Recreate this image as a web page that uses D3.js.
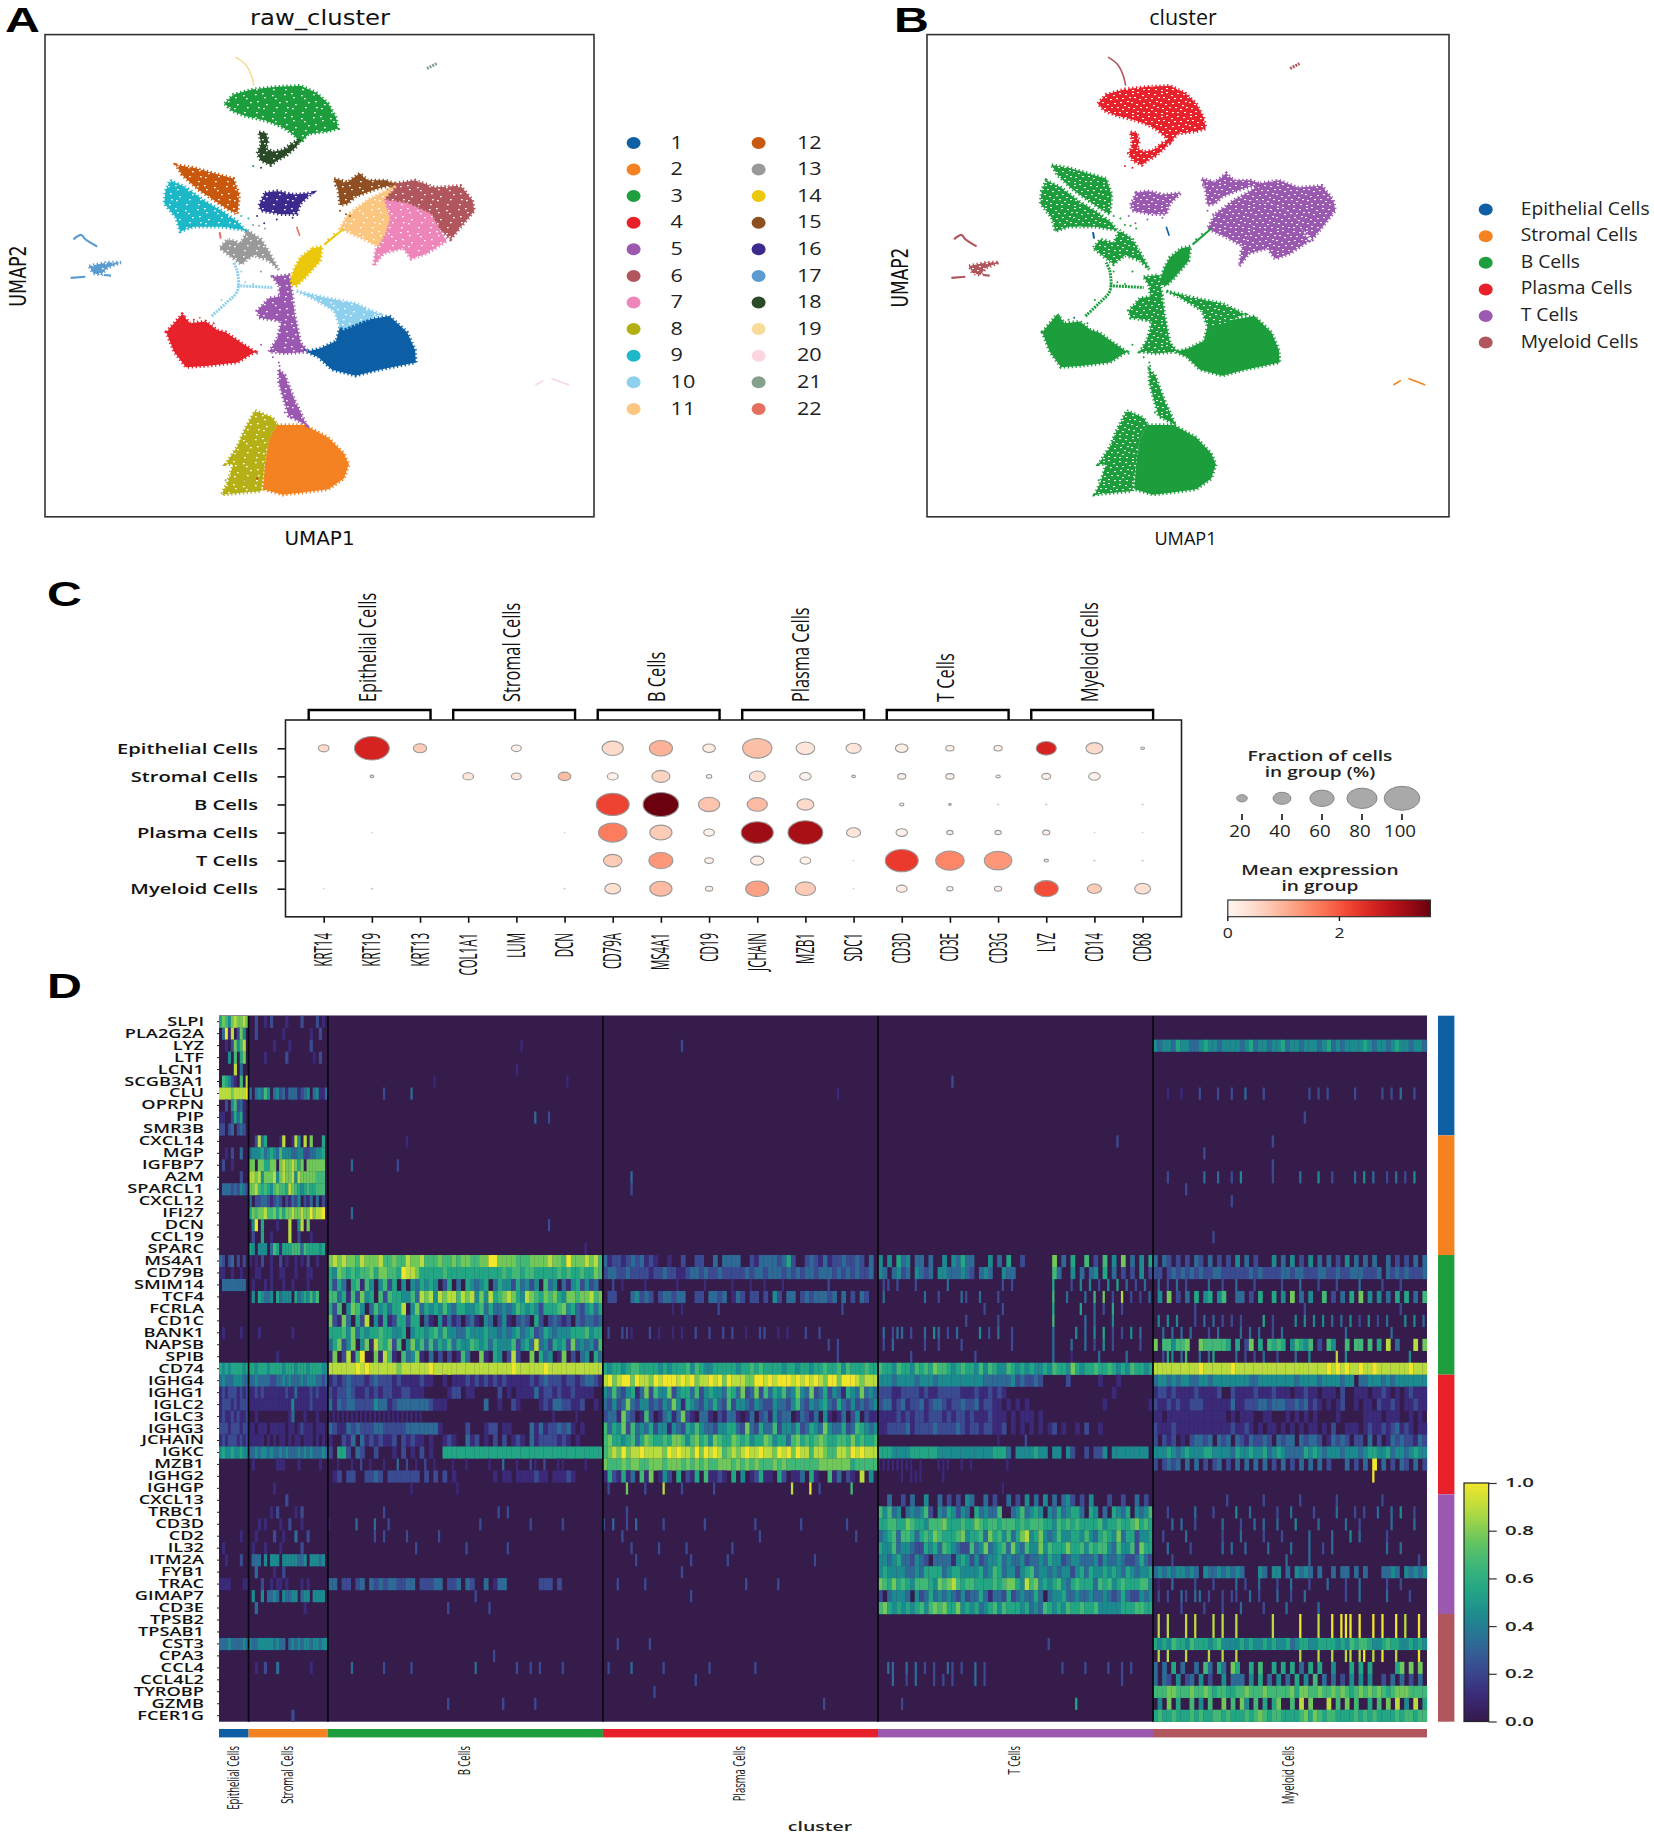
<!DOCTYPE html>
<html><head><meta charset="utf-8">
<script src="https://cdn.jsdelivr.net/npm/d3@7/dist/d3.min.js"></script>
<style>html,body{margin:0;padding:0;background:#fff}svg{display:block}</style></head>
<body><div id="chart"></div>
<script>
// ---------- UMAP cluster outlines (reading units of panel A) ----------
const cluster1=[[860,915],[900,900],[985,885],[1030,930],[1050,980],[1052,1015],[960,1035],[900,1052],[840,1035],[805,1000],[775,985],[810,975],[850,955]];
const cluster2=[[700,1190],[770,1190],[830,1225],[870,1270],[882,1300],[870,1340],[830,1370],[760,1380],[715,1385],[665,1370],[670,1300],[680,1230]];
const cluster3=[[568,290],[590,265],[640,250],[700,243],[760,240],[800,260],[830,290],[850,330],[855,360],[830,368],[780,375],[760,400],[745,380],[720,360],[690,345],[660,335],[620,325],[585,310]];
const cluster4=[[420,930],[432,915],[460,880],[480,905],[520,900],[550,925],[570,930],[610,960],[645,985],[600,1015],[520,1025],[470,1028],[440,985]];
const cluster5=[[690,775],[730,770],[740,830],[745,880],[760,960],[780,985],[720,990],[680,985],[700,950],[712,900],[655,890],[650,870],[680,835],[708,830],[705,800]];
const cluster5b=[[705,1035],[720,1050],[745,1120],[775,1190],[730,1165],[715,1110],[705,1070]];
const cluster6=[[990,515],[1050,505],[1100,525],[1165,520],[1195,560],[1200,590],[1170,630],[1140,670],[1110,640],[1090,600],[1030,570],[970,560]];
const cluster7=[[970,560],[1030,570],[1090,600],[1110,640],[1130,675],[1080,710],[1040,725],[1020,695],[970,710],[945,745],[950,700],[975,650],[985,610]];
const cluster8=[[645,1150],[690,1170],[700,1190],[680,1230],[670,1290],[660,1375],[610,1380],[560,1385],[575,1350],[590,1300],[570,1300],[600,1250],[620,1200]];
const cluster9=[[430,505],[470,525],[520,565],[560,590],[600,620],[620,645],[560,635],[490,635],[455,648],[445,610],[415,570],[418,535]];
const cluster10=[[750,815],[830,835],[900,850],[960,880],[870,920],[860,915],[845,870],[790,835]];
const cluster11=[[1000,520],[970,560],[985,610],[975,650],[955,690],[920,670],[860,640],[880,600],[930,560]];
const cluster12=[[445,462],[490,470],[540,485],[590,500],[605,545],[600,600],[575,585],[540,560],[500,530],[460,490]];
const cluster13=[[625,645],[660,670],[680,705],[705,755],[680,730],[640,715],[610,740],[555,695],[575,670],[610,680]];
const cluster14=[[790,695],[815,690],[810,730],[770,780],[750,800],[730,795],[745,750],[760,720]];
const cluster15=[[845,500],[880,510],[910,485],[930,505],[975,505],[1000,515],[950,530],[900,550],[880,570],[860,575],[855,530]];
const cluster16=[[670,540],[700,535],[745,545],[790,540],[760,570],[750,600],[710,600],[660,590],[655,575]];
const cluster17=[[225,745],[270,735],[305,735],[270,750],[255,770],[235,765]];
const cluster18=[[655,370],[672,372],[678,395],[672,415],[690,425],[715,420],[740,400],[760,390],[750,410],[725,435],[700,450],[685,462],[660,450],[650,430],[660,405]];
// thin strands
const strand10a=[[535,885],[570,850],[600,815],[600,760],[590,735]];
const strand10b=[[600,800],[690,805]];
const strand11=[[820,685],[870,640]];
const strand17a=[[185,670],[205,658],[215,670],[245,690]];
const strand17b=[[178,778],[215,775]];
const strand17c=[[262,770],[280,772]];
const strand19=[[595,160],[620,180],[635,210],[642,240]];
const strand20a=[[1355,1078],[1375,1065]];
const strand20b=[[1395,1060],[1440,1078]];
const strand21=[[1080,192],[1105,178]];
const strand22=[[750,635],[758,660]];
const strand22b=[[555,650],[558,668]];
// loose cells seen away from the main masses: x, y, cluster index
const looseCells=[[610,605,8],[628,612,8],[640,630,12],[655,632,12],[670,640,12],[650,605,15],[668,625,15],[700,615,15],[740,610,15],[660,470,17],[640,465,2],[765,395,2],[705,1015,4],[707,1025,4],[660,965,4],[650,990,4],[690,1000,4],[770,980,0],[790,990,0],[610,760,9],[620,790,9],[640,795,9],[560,840,9],[660,760,12],[875,600,14],[860,590,14],[885,605,14],[850,510,14],[848,520,14],[735,1170,4],[720,1155,4],[465,885,3],[490,895,3],[505,890,21],[540,905,3],[620,1345,12],[650,1340,3],[570,1345,12],[1000,525,10],[830,670,13],[845,655,13]];

const clusterIds=["1","2","3","4","5","6","7","8","9","10","11","12","13","14","15","16","17","18","19","20","21","22"];
const clusterColors=["#0f5fa5","#f58220","#1f9e3e","#e8202a","#9b59b0","#b0565c","#ee86ba","#b5b012","#1fb8c8","#8fd0ee","#fbc680","#c9590f","#9a9a9a","#ecc80f","#8f5020","#3e2a8f","#5b9bd0","#2a4a28","#f7dc98","#fbd5e0","#86a08e","#e57060"];
const cellTypes=["Epithelial Cells","Stromal Cells","B Cells","Plasma Cells","T Cells","Myeloid Cells"];
const typeColors=["#0f5fa5","#f58220","#1f9e3e","#e8202a","#9b59b0","#b0565c"];
// cell type of each raw cluster (index into cellTypes)
const clusterType=[2,2,3,2,2,4,4,2,2,2,4,2,2,2,4,4,5,3,5,1,5,0];

// ---------- dot plot ----------
const dotGenes=["KRT14","KRT19","KRT13","COL1A1","LUM","DCN","CD79A","MS4A1","CD19","JCHAIN","MZB1","SDC1","CD3D","CD3E","CD3G","LYZ","CD14","CD68"];
const fracEpithelial=[20,97,27,0,18,0,50,56,25,77,42,32,25,14,14,47,37,5];
const fracStromal=[0,5,0,20,18,25,20,40,8,34,22,5,14,14,6,16,22,0];
const fracB=[0,0,0,0,0,0,90,100,50,47,37,0,6,3,2,2,0,2];
const fracPlasma=[0,1,0,0,0,1,74,53,20,87,97,29,22,10,10,12,1,1];
const fracT=[0,0,0,0,0,0,42,59,15,27,20,1,90,74,71,6,2,2];
const fracMyeloid=[1,2,0,0,0,2,34,53,12,56,47,1,20,10,12,59,29,34];
const meanEpithelial=[.5,2.6,.7,0,.1,0,.5,1,.2,.85,.3,.3,.15,.1,.1,2.6,.5,.3];
const meanStromal=[0,.5,0,.3,.3,.9,.1,.6,.1,.4,.1,.2,.1,.1,.2,.1,.1,0];
const meanB=[0,0,0,0,0,0,2.2,3.6,.8,.9,.5,0,.3,.1,.1,.1,0,.1];
const meanPlasma=[0,.1,0,0,0,.1,1.6,.7,.1,3.2,3.1,.3,.1,.1,.1,.1,.1,.1];
const meanT=[0,0,0,0,0,0,.7,1.3,.1,.2,.1,.1,2.3,1.5,1.3,.3,.1,.1];
const meanMyeloid=[.1,.3,0,0,0,.1,.4,.9,.1,1.2,.7,.1,.2,.1,.1,2.1,.7,.4];
const fracRows=[fracEpithelial,fracStromal,fracB,fracPlasma,fracT,fracMyeloid];
const meanRows=[meanEpithelial,meanStromal,meanB,meanPlasma,meanT,meanMyeloid];
const sizeLegend=[20,40,60,80,100];

// ---------- heat map: digit = level 0-9 of 9; a string's length sets its own column count ----------
const heatGenes=["SLPI","PLA2G2A","LYZ","LTF","LCN1","SCGB3A1","CLU","OPRPN","PIP","SMR3B","CXCL14","MGP","IGFBP7","A2M","SPARCL1","CXCL12","IFI27","DCN","CCL19","SPARC","MS4A1","CD79B","SMIM14","TCF4","FCRLA","CD1C","BANK1","NAPSB","SPIB","CD74","IGHG4","IGHG1","IGLC2","IGLC3","IGHG3","JCHAIN","IGKC","MZB1","IGHG2","IGHGP","CXCL13","TRBC1","CD3D","CD2","IL32","ITM2A","FYB1","TRAC","GIMAP7","CD3E","TPSB2","TPSAB1","CST3","CPA3","CCL4","CCL4L2","TYROBP","GZMB","FCER1G"];
const heatEpithelial=["5764787787","0391802740","0010274680","0004060570","0000080300","0654210608","8888788889","0020462310","1100253510","2202302320","0","0010200300","0200100000","0000000200","0333232432","0","0","0","0","0","3202302020","1100100100","0333333330","0","0","0","0100000100","0","0","5454555545","3433344433","1212221212","1222121222","1211212112","2221222122","1212221212","4544544544","0","0","0","0","0","0","0000000100","0100000000","0010000200","0","1111000011","0","0","0","0","3334333343","0","0","0","0","0","0"];
const heatStromal=["00200102000010000200002010","00200000000100000000100200","00000000100001000000200000","00000100000020000000010200","0","0","30343640342313331234034113","0","0","0","00283500001800184080700050","34445345436444334422334450","77077557707877875707777770","88784777847877848777776660","77865654676658765456556660","30223321232021324021303020","57677866757577877877978890","04905000010008004807000000","02005001000008002000100000","54044403651555666365555450","10102001002010010102001000","00110001001100010001100000","01000101000100100001000000","04054334053444053454646000","0","0","00010000000000100000000000","0","00000000010000000000000000","55455545555455545554555544","33433332233434333434443323","11212111111121131111212111","11111111111111411111211111","00100000000001300010001000","11011101111101101211101110","11111010101101011011101010","33434434334343334343433343","01000000011100001000000100","0","00000000100000000000000000","00000000000020000000000000","00000001020000010200000000","00010100001002000100000000","00100000200100030002000000","01000100001000000200000000","03330404440444443340444340","00300000100200000000000000","00002001011010000101000000","04004033430433440344044440","00300000000000000010000000","0","0","43344444343303434344344344","0","00100200030000000000100000","0","0","0","00000000000000200000000000"];
const heatB=["0","0","000000000000000000000000000000000000000000100000000000000000","0","000000000000000000000000000000000000000001000000000000000000","000000000000000000000001000000000000000000000000000010000000","000000000000200000300000000000000000000000000000000000000000","0","000000000000000000000000000000000000000000000300200000000000","0","000000000000000001000000000000000000000000000000000000000000","000000000000000000000000000000000000000000000000000000000000","000003000000000200000000000000000000000000000000000000000000","0","0","0","000003000000000000000000000000000000000000000000000000000000","000000000000000000000000000000000000000000000000200000000000","0","000000000000000000000000000000000000000000000000000000001000",
"787877687778667668778666766767766779977776667777877697778786","547656566757766598875555565555555555556566566555556565565576","525305616404625040435454025030543450354425342406340314524230","663516274506265544638784878868784748567875487657675477677867","526047640364535580473545464355445635334346545425556745324535","721730528041512552550310413120231043024102320520232120323323","555647354556554450455456464433544454434345345235434445556455","357247047186572604746363546354465453544462453834254527343426","170281690071861063471030202016300710540282007053401702034053","888888989888888788888898888888888888888898888889888888888888",
"121232221232221211112110010111212121212111112123222122123321","212232112121221122111000001220110000020101111312212112111100","313233222243312333333321110000000030010021000012133221120010","111111111111111111111000000000000000000000000000010000100000","321132322233222223333333100000200012201100003131223231010000","100213031212112021211010012100312010202012103122221210100000","205520320020001020102010055555555555555555555555555555555555","001001020100100302010201000100100001003001002102001100001000","012022002232022222220202020100000000101101111211011121000000","000000000000000000100000000010000000000000000000000000000000",
"0","000000000000200000000000000000000000020200000000000000000000","100000300030020000000000000000000200000000002000000200000000","000000000020200002000000200000000000000000000000000000000000","000000000000000000020000000000200000000200000000000000000000","000000000000000000000000000000000000000000000000000000000000","0","330220230323233223302223302230320030133000000022202000000000","000000000000000000000000000000002000000000000000000000000000","000000000000000000000000002000000002000000000000000000000000","0","0","0","000000000000000000000000000000000000200000000000000000000000","000003000000200000200000000000003000000002002020000200000000","000000000000000000000000000000000000000000000000000000000000","0","000000000000000000000000002000000000002000000200000000000000","0"];
const heatPlasma=["0","0","000000000000000002000000000000000000000000000000000000000000","0","0","0","000000000000000000000000000000000000000000000000000100000000","0","0","0","0","0","0","000000300000000000000000000000000000000000000000000000000000","000000200000000000000000000000000000000000000000000000000000","0","0","0","0","0",
"312212323121001002002200303333002133332352002321312232232030","233223222212232211233232232222232332333232323323332323232230","002010000100000010000010000010001001000100000000020000000000","022000342320233233002203323013202202042033023233323030203200","000000000000000101000000020000000000000000000000000020000000","000000000000000000000000000000000000000000000000000000000000","020022100020100101002002002020010022001010002002000000000000","000000000000000000000000000000000000000000000000020200000000","000000000000000000000000000000000000000000000000000200000000","545545665555454555646544555554556565555455455455655646555655",
"897899798879899989897889897988877998989998989898799799987888","436324513726447245536245443653723726354634743723524315437343","324237324423243741543243532624432432243324632434532532423234","233173201620134137210331021331013023142330132130410130240211","635472634352441432546433244553273253362443523543743352365434","675545635765565776467564765576564557645536756567655665756556","678797889888879898879798986787898898879897988688766887989888","766676776677767776767676677767676766676766666667777777566666","152151306170142050215061121050401251105201130510061302108040","020007000200080002000000200000000000000008000902000000600000",
"0","000002000000000000000000000000000000000000000000000000000000","203002030000020000000020000000000200000000020000000002000000","000020000000000000000000000000000020000000000000000000020000","000000200000200000200000000020000000000000000000000000000000","000000020000000000020000000200000000000000000020000000000000","000000000000000002000000000000000000000000000000000000000000","000200000200000000000000000000020000002000000000000000000000","000000000000000000020000000000000000000000000000000000000000","0","0","0","000200000020000000000000000000000000000000000000000000000000","0","020000300000020000000002000000000200000000000000000000000000","000000000000000000002000000000000000000000000000000000000000","000000000002000000000000000000000000000000000000000000000000","000000000000000000000000000000000000000000000000200000000000","0"];
const heatT=["0","0","000000000000000000000000000000000000000000000000000000000000","0","0","000000000000000020000000000000000000000000000000000000000000","0","0","0","0","000000000000000000000000000000000000000000000000000020000000","0","0","0","0","0","0","0","0","0",
"404053403303004043533000403050020000007030500602060407030405","430342304323044333432034300433000000006300403034050302020402","022020002000000300000000000202000000005000204040204050302030","030000000030020000320030002000000000006003000306070208020203","000000000000000000000002000200000000005000005003020502000000","000000000000000000020000002000000000006000000303000400000000","030233020030430203000040203002000000003000040304050202040300","020300000020020000200000000002000000003000300302040200000200","000000020000000000000200000000000000003000100000300000300000","655465546565766545655464654465454544546554754556556545465545",
"444344443444344444444443333334232232000002000000100010000000","222112222121122222111211212100000000000000000000000100000000","233123122312332122322312211010101000000000000000010000000001","111121212212221212212111211101011101000000000000000000000000","112222312222322223212212211201010101012010010200100000000000","000000000000000000000000001000002000000000000000000000000000","555444455555544444444444455530444454404404200202240444444440","111111110100011100101000000010000000000000000000000000000000","000001011100001000000000000000000000000000000000000000000000","000000000000000000000000000100000000000000000000000000000000",
"003002030040030202043003020030204030403034202040002002003020","646340343462043542430534336003463454043534553054030543504346","556655765546667555655765665666565666554656565555645565567565","345636653565765556745563756463578457434644554643565473552445","544634432254536543226347345637436447465557556465664364462755","443453324320333314542423445343342334354423443334243343223532","454444334355553455444453465344245634434344245354454543543445","765756546665476786566555565677548674545643565553656456555664","203444304235343432423353133252343353034453343343343235322434","675454545646767557454534564655545343654546556556444445556655",
"0","0","000000000000000000000000000000000000020000000000000000000000","0","003300303020200320200302000000000000000020000200002002020000","000300203000202020000302000000000000000000000000000002000000","0","000002000000000000000000000000000000000000050000000000000000","0"];
const heatMyeloid=["0","0","434435443345443444434534434453443444345343444454344345443443","0","0","0","000100100020002002003000200000000020202000002000002020300200","0","000000000000000000000000000000000200000000000000000000000000","0","000000000000000000000000002000000000000000000000000000000000","000000000002000000000000000000000000000000000000000000000000","000000000000000000000000002000000000000000000000000000000000","000200000003003002040000002000003000400200003040300203020400","000000020000000000000000000000000000000000000000000000000000","000000000000000002000000000000000000000000000000000000000000","0","0","000000000000020000000000000000000000000000000000000000000000","0",
"303202020320302020403020004030402040303020403030300302020303","220232323232233222222323222233233222332232233322230323232223","030203020000300200300020000020003000200020000300002000200000","040702030504504600330205005040703040060203050704040305050306","000000000200000000000000000000000200000000000000000000200000","040404000203030202020000502000040404040303040204020300040403","003030303000203000030303002030000000000000300000000030000000","706646670076666650502705065650465460206400606606050803000807","002540360030350000302020300200030040000080400000000000004000","888888888898888889888888888888888888889898988988988888889888",
"344343443344344444444334444444434444344443440334443434444444","122121111211112002111121112111011211011102001110112101012111","211212112221111113112223323332232312101012001011021121011211","110111111111111101011100110001010101000010000011110111001010","211121111111111112112101011010101011010200111012112123121011","202120102332303230321322320323303233201323202203020132322132","444543454445544443544544534543333545434443444345544534434544","202323030302023020303030302030203030302000302030903020320302","000000000000000000000000000000000000000000000000900000000000","0",
"000000000000000020000000200000002000000020000000002000000000","000200000300020000400300000200300002000030002020030030400200","000030300200000300020030300300040000300000300200000030000300","002000030000000200030000200020000030000300040300000200000000","000300002000000303003000030000300030020300000000000300300000","000020000000000000000000000003000030000000000000000000000020","343434434304334343430004304403043430300303303030003343043434","010030000200020000302003000200300020003000200300000200200000","020200320330200202200302000300200300000000200300000300002000","000000200002000200030000200003000000300000000000000000000000",
"080800080800080800800000008000009000800909990900909009080090","080800080800080800800000008000009000800909990900909009080090","545465546555456444454544545445345544555545465665445655445454","080800080000800800800000000000008000800800880890809008000090","303050300306305307500506005050503050500400050505000005707070","303204023040200403330405030403050406030302040404002030302030","666776667667656655667666766666757766766767656767676567776666","040705006040600706074060505700608070008060706005060708040805","565565556565566565556567656655556757656655556565655556566566"];
const heatBlocks=[heatEpithelial,heatStromal,heatB,heatPlasma,heatT,heatMyeloid];
const blockEdges=[219,248.6,327.9,602.9,878,1153,1427];
const cbarTicks=[0,0.2,0.4,0.6,0.8,1.0];

// ---------- page ----------
const svg=d3.select("#chart").append("svg").attr("width",1654).attr("height",1836).attr("viewBox","0 0 1654 1836");
const defs=svg.append("defs");
defs.append("filter").attr("id","soft").append("feGaussianBlur").attr("stdDeviation",0.55);
const speckTile=[[1,1],[6,0],[11,3],[17,1],[23,2],[27,5],[3,5],[8,7],[14,6],[20,6],[25,9],[0,10],[5,12],[12,11],[18,10],[22,13],[2,16],[9,15],[15,15],[20,17],[26,15],[6,19],[12,20],[17,20],[24,20],[1,21]];
function makeSpeck(id,keep,w,h){
  const p=defs.append("pattern").attr("id",id).attr("patternUnits","userSpaceOnUse").attr("width",29).attr("height",23);
  speckTile.forEach((s,i)=>{if(i%keep===0)p.append("rect").attr("x",s[0]).attr("y",s[1]).attr("width",w).attr("height",h).attr("fill","#fff")});
}
makeSpeck("speckA",2,1.7,1.3);
makeSpeck("speckB",1,1.9,1.1);

function label(parent,txt,x,y,o={}){
  const {size=14,sx=1,sy=1,rot=0,anchor="middle",weight=400,family="'Open Sans'",fill="#111"}=o;
  return parent.append("text").attr("transform",`translate(${x},${y}) rotate(${rot}) scale(${sx},${sy})`)
    .attr("text-anchor",anchor).attr("font-family",family).attr("font-size",size).attr("font-weight",weight).attr("fill",fill).text(txt);
}

// ---------- UMAP panels ----------
const shapes=[
  [cluster4,3,0],[cluster1,0,0],[cluster2,1,0],[cluster8,7,1],[cluster3,2,1],[cluster18,17,1],[cluster12,11,1],[cluster9,8,1],[cluster16,15,1],[cluster13,12,1],
  [cluster6,5,1],[cluster7,6,1],[cluster11,10,1],[cluster15,14,1],[cluster14,13,0],[cluster10,9,1],[cluster5,4,1],[cluster5b,4,1],[cluster17,16,1]];
const strands=[[strand10a,9,3],[strand10b,9,3],[strand11,13,2],[strand17a,16,2.2],[strand17b,16,2.2],[strand17c,16,2.2],[strand19,18,1.6],[strand20a,19,1.6],[strand20b,19,1.6],[strand21,20,3],[strand22,21,1.6],[strand22b,21,2]];
function umap(px0,px1,colorOf,speckId){
  const x=d3.scaleLinear().domain([113,1503]).range([px0,px1]);
  const y=d3.scaleLinear().domain([97,1447]).range([34.6,516.8]);
  const area=d3.line().x(d=>x(d[0])).y(d=>y(d[1])).curve(d3.curveLinearClosed);
  const ln=d3.line().x(d=>x(d[0])).y(d=>y(d[1])).curve(d3.curveCatmullRom.alpha(.5));
  const g=svg.append("g").attr("filter","url(#soft)");
  g.selectAll("path.c").data(shapes).join("path").attr("class","c").attr("d",d=>area(d[0]))
    .attr("fill",d=>colorOf(d[1])).attr("stroke",d=>colorOf(d[1])).attr("stroke-width",3.4).attr("stroke-dasharray","1.3 2.6");
  g.selectAll("path.s").data(shapes.filter(d=>d[2])).join("path").attr("class","s").attr("d",d=>area(d[0])).attr("fill",`url(#${speckId})`);
  g.selectAll("path.t").data(strands).join("path").attr("class","t").attr("d",d=>ln(d[0]))
    .attr("fill","none").attr("stroke",d=>colorOf(d[1])).attr("stroke-width",d=>d[2]).attr("stroke-dasharray",d=>d[2]>=3?"2 1":null);
  g.selectAll("circle").data(looseCells).join("circle").attr("cx",d=>x(d[0])).attr("cy",d=>y(d[1])).attr("r",1).attr("fill",d=>colorOf(d[2]));
  svg.append("rect").attr("x",px0).attr("y",34.6).attr("width",px1-px0).attr("height",482.2).attr("fill","none").attr("stroke","#333").attr("stroke-width",1.6);
}
umap(45,594,i=>clusterColors[i],"speckA");
umap(927,1449,i=>typeColors[clusterType[i]],"speckB");
label(svg,"raw_cluster",320,25,{size:21,sx:1.16,family:"'DejaVu Sans'"});
label(svg,"cluster",1183,25,{size:21,sx:1.02});
label(svg,"UMAP1",319.5,545,{size:19,sx:1.05,family:"'DejaVu Sans'"});
label(svg,"UMAP1",1185.5,545,{size:18.5,sx:.98});
label(svg,"UMAP2",26,276,{size:23,sx:.76,rot:-90,family:"'DejaVu Sans'"});
label(svg,"UMAP2",908,277.5,{size:23,sx:.74,rot:-90,family:"'DejaVu Sans'"});
[["A",5,32],["B",894,32],["C",47,606],["D",47,998]].forEach(l=>label(svg,l[0],l[1],l[2],{size:35,sx:1.38,anchor:"start",weight:700,family:"'Liberation Sans'",fill:"#000"}));

// legends
const legA=svg.append("g");
clusterIds.forEach((c,i)=>{
  const col=i<11?0:1,row=i%11,yy=142.9+row*26.6;
  legA.append("ellipse").attr("cx",col?758.6:633.6).attr("cy",yy).attr("rx",7).attr("ry",6).attr("fill",clusterColors[i]);
  label(legA,c,col?797:670.6,yy+5.6,{size:18,sx:1.2,anchor:"start",fill:"#222"});
});
const legB=svg.append("g");
cellTypes.forEach((c,i)=>{
  const yy=209.6+i*26.6;
  legB.append("ellipse").attr("cx",1485.7).attr("cy",yy).attr("rx",7).attr("ry",6).attr("fill",typeColors[i]);
  label(legB,c,1520.7,yy+5,{size:18,sx:1.07,anchor:"start",fill:"#222"});
});

// ---------- dot plot ----------
const dx=d3.scalePoint().domain(dotGenes).range([323.7,1142.6]);
const dy=d3.scalePoint().domain(cellTypes).range([748.3,888.7]);
const dotW=d3.scalePow().exponent(.75).domain([0,100]).range([0,35.7]);
const dotH=d3.scalePow().exponent(.75).domain([0,100]).range([0,24]);
const reds=d3.scaleSequential(d3.interpolateReds).domain([0,3.63]);
const dp=svg.append("g");
dp.append("g").attr("transform","translate(0,916.8)").call(d3.axisBottom(dx).tickSize(6).tickFormat("")).call(s=>{s.select(".domain").remove();s.selectAll("line").attr("stroke","#111").attr("stroke-width",1.6)});
dp.append("g").attr("transform","translate(285.5,0)").call(d3.axisLeft(dy).tickSize(8).tickFormat("")).call(s=>{s.select(".domain").remove();s.selectAll("line").attr("stroke","#111").attr("stroke-width",1.6)});
dp.append("rect").attr("x",285.5).attr("y",720).attr("width",896).attr("height",196.8).attr("fill","#fff").attr("stroke","#222").attr("stroke-width",1.6);
const dotData=[];
cellTypes.forEach((t,r)=>dotGenes.forEach((g,c)=>{if(fracRows[r][c]>0)dotData.push({t,g,f:fracRows[r][c],m:meanRows[r][c]})}));
dp.selectAll("ellipse").data(dotData).join("ellipse").attr("cx",d=>dx(d.g)).attr("cy",d=>dy(d.t))
  .attr("rx",d=>dotW(d.f)/2).attr("ry",d=>dotH(d.f)/2).attr("fill",d=>reds(d.m)).attr("stroke","#999").attr("stroke-width",d=>d.f<3?.4:1.1);
dotGenes.forEach(g=>label(dp,g,dx(g)+8.5,933,{size:25,sx:.46,rot:-90,anchor:"end",fill:"#111"}));
cellTypes.forEach(t=>label(dp,t,258,dy(t)+5.5,{size:14.5,sx:1.39,anchor:"end",weight:600,fill:"#111"}));
cellTypes.forEach((t,i)=>{
  const a=dx(dotGenes[i*3])-15,b=dx(dotGenes[i*3+2])+10.5;
  dp.append("path").attr("d",d3.line()([[a,720],[a,710],[b,710],[b,720]])).attr("fill","none").attr("stroke","#000").attr("stroke-width",2.4);
  label(dp,t,(a+b)/2+6,702,{size:24,sx:.68,rot:-90,anchor:"start",fill:"#111"});
});
// size legend
const sl=svg.append("g");
label(sl,"Fraction of cells",1320,761,{size:14.5,sx:1.32,weight:600,fill:"#222"});
label(sl,"in group (%)",1320,776.7,{size:14.5,sx:1.32,weight:600,fill:"#222"});
const slx=d3.scalePoint().domain(sizeLegend).range([1242,1402]);
sl.selectAll("ellipse").data(sizeLegend).join("ellipse").attr("cx",d=>slx(d)).attr("cy",798.3).attr("rx",d=>dotW(d)/2).attr("ry",d=>dotH(d)/2).attr("fill","#a9a9a9").attr("stroke","#888").attr("stroke-width",1);
sizeLegend.forEach(v=>{
  sl.append("line").attr("x1",slx(v)).attr("x2",slx(v)).attr("y1",814).attr("y2",820).attr("stroke","#111").attr("stroke-width",1.6);
  label(sl,v,slx(v)-2,837,{size:16,sx:1.17,fill:"#222",weight:500});
});
label(sl,"Mean expression",1320,875,{size:14.5,sx:1.32,weight:600,fill:"#222"});
label(sl,"in group",1320,890.7,{size:14.5,sx:1.32,weight:600,fill:"#222"});
const grad=defs.append("linearGradient").attr("id","redsBar");
d3.range(0,1.001,.1).forEach(t=>grad.append("stop").attr("offset",t).attr("stop-color",d3.interpolateReds(t)));
const cx=d3.scaleLinear().domain([0,3.63]).range([1227.8,1430.4]);
sl.append("rect").attr("x",1227.8).attr("y",900).attr("width",202.6).attr("height",16.7).attr("fill","url(#redsBar)").attr("stroke","#333").attr("stroke-width",1.2);
[0,2].forEach(v=>{
  sl.append("line").attr("x1",cx(v)).attr("x2",cx(v)).attr("y1",916.7).attr("y2",921).attr("stroke","#111").attr("stroke-width",1.4);
  label(sl,v,cx(v),938,{size:15,sx:1.17,fill:"#222",weight:500});
});

// ---------- heat map ----------
const heatColor=d3.scaleLinear().domain([0,.11,.22,.33,.44,.55,.66,.77,.88,1]).range(["#351a4c","#3a2a78","#3b4a92","#2d6a96","#1f8a90","#22a585","#3fb778","#6cc75c","#b4da40","#f0e62a"]);
const hy=d3.scaleBand().domain(heatGenes).range([1015.7,1721.7]);
const hm=svg.append("g");
const hg=hm.append("g").attr("filter","url(#soft)");
hg.append("rect").attr("x",219).attr("y",1015.7).attr("width",1208).attr("height",706).attr("fill",heatColor(0));
heatBlocks.forEach((blk,b)=>{
  blk.forEach((str,r)=>{
    const hx=d3.scaleLinear().domain([0,str.length]).range([blockEdges[b],blockEdges[b+1]]);
    const cells=Array.from(str,(c,i)=>({i,v:+c/9})).filter(d=>d.v>0);
    // rows made of isolated streaks were seen as streaks about half a column wide
    const streaky=b>=2&&cells.length<str.length*.42;
    const w=(hx(1)-hx(0))*(streaky?.5:1)+(streaky?0:.2);
    hg.selectAll(null).data(cells).join("rect").attr("x",d=>hx(d.i)).attr("y",hy(heatGenes[r])).attr("width",w).attr("height",hy.bandwidth()+.2).attr("fill",d=>heatColor(d.v));
  });
});
blockEdges.slice(1,-1).forEach(e=>hm.append("line").attr("x1",e).attr("x2",e).attr("y1",1015.7).attr("y2",1721.7).attr("stroke","#0a0a14").attr("stroke-width",1.8));
hm.append("line").attr("x1",219).attr("x2",1427).attr("y1",1015.5).attr("y2",1015.5).attr("stroke","#8a7a90").attr("stroke-width",.8);
heatGenes.forEach(g=>{
  hm.append("line").attr("x1",217).attr("x2",219).attr("y1",hy(g)+hy.bandwidth()/2).attr("y2",hy(g)+hy.bandwidth()/2).attr("stroke","#222");
  label(hm,g,204,hy(g)+hy.bandwidth()/2+4,{size:12,sx:1.52,anchor:"end",weight:600,fill:"#111"});
});
// group colour bars
const tallies=[10,10,10,10,10,9];
let acc=0;
cellTypes.forEach((t,i)=>{
  const a=blockEdges[i],b=blockEdges[i+1];
  hm.append("rect").attr("x",a).attr("y",1729).attr("width",b-a).attr("height",8.4).attr("fill",typeColors[i]);
  const y0=hy.step()*acc+1015.7; acc+=tallies[i];
  hm.append("rect").attr("x",1438).attr("y",y0).attr("width",16.4).attr("height",hy.step()*tallies[i]).attr("fill",typeColors[i]);
});
const heatLabelX=[233,287.5,464,739,1014,1288];
cellTypes.forEach((t,i)=>label(hm,t,heatLabelX[i]+5.5,1746,{size:17,sx:.56,rot:-90,anchor:"end",fill:"#111"}));
label(hm,"cluster",820,1831,{size:13,sx:1.5,weight:600,fill:"#222"});
// viridis colour bar
const vgrad=defs.append("linearGradient").attr("id","viriBar").attr("x1",0).attr("x2",0).attr("y1",1).attr("y2",0);
d3.range(0,1.001,.05).forEach(t=>vgrad.append("stop").attr("offset",t).attr("stop-color",heatColor(t)));
const vy=d3.scaleLinear().domain([0,1]).range([1721.5,1483]);
hm.append("rect").attr("x",1464).attr("y",1483).attr("width",24.7).attr("height",238.5).attr("fill","url(#viriBar)").attr("stroke","#222").attr("stroke-width",1.2);
hm.append("g").attr("transform","translate(1488.7,0)").call(d3.axisRight(vy).tickValues(cbarTicks).tickSize(8).tickFormat("")).call(s=>{s.select(".domain").remove();s.selectAll("line").attr("stroke","#333").attr("stroke-width",1.2)});
cbarTicks.forEach(v=>label(hm,v.toFixed(1),1505,vy(v)+4.4,{size:12,sx:1.7,anchor:"start",weight:600,fill:"#222"}));
</script></body></html>
